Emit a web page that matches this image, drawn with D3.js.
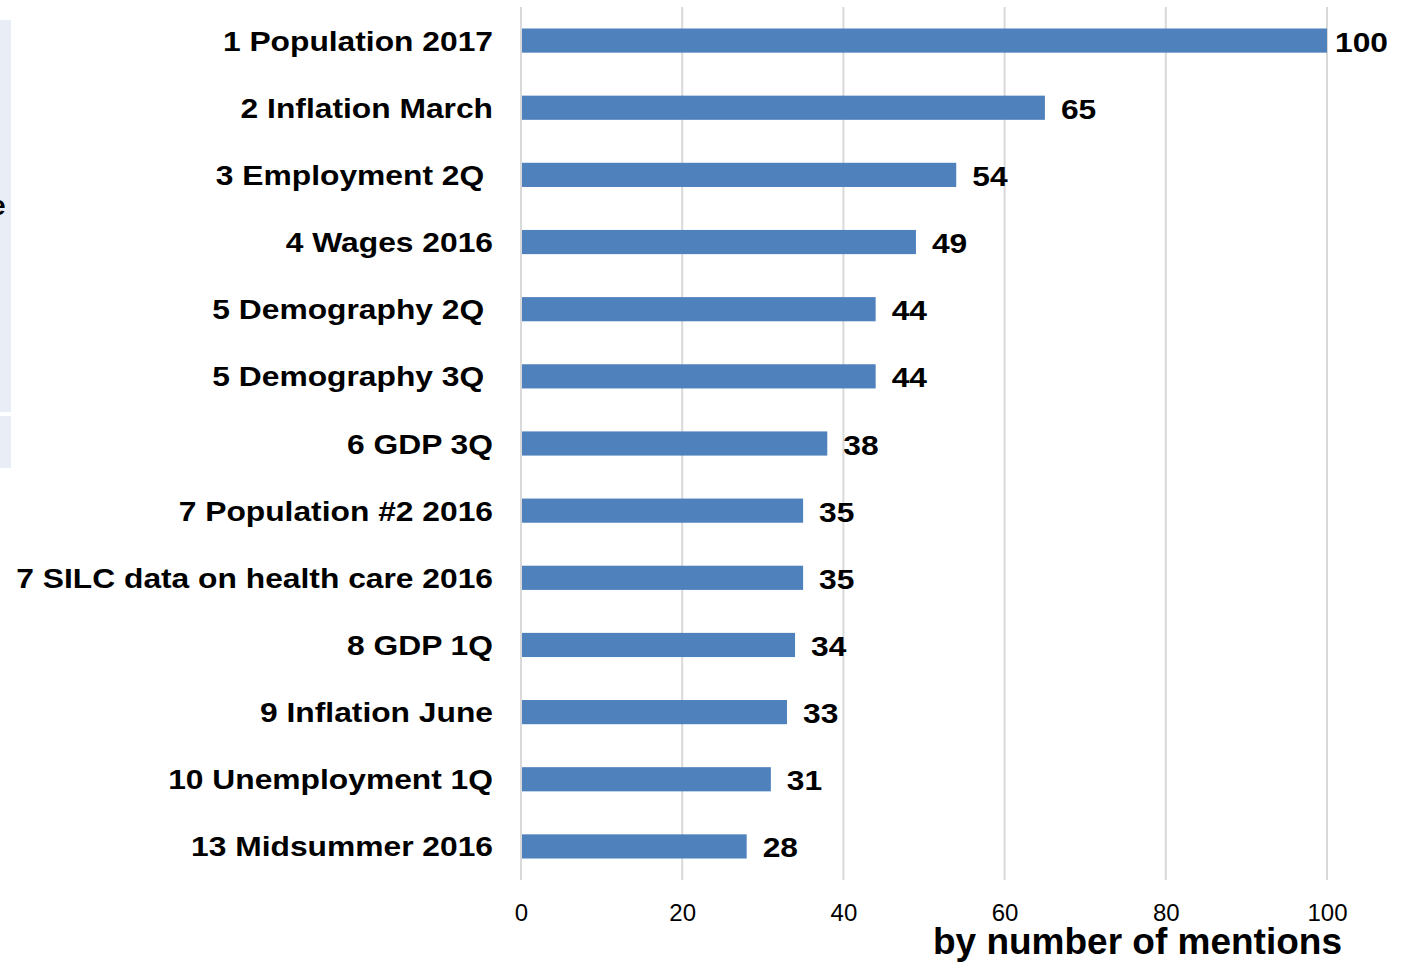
<!DOCTYPE html>
<html>
<head>
<meta charset="utf-8">
<script src="https://cdn.jsdelivr.net/npm/d3@7"></script>
<style>
  body { margin: 0; background: #fff; }
  svg text { font-family: Arial, "Liberation Sans", sans-serif; }
</style>
</head>
<body>
<div id="chart"></div>
<script>
const categories = [
  "1 Population 2017", "2 Inflation March", "3 Employment 2Q ", "4 Wages 2016",
  "5 Demography 2Q ", "5 Demography 3Q ", "6 GDP 3Q", "7 Population #2 2016",
  "7 SILC data on health care 2016", "8 GDP 1Q", "9 Inflation June",
  "10 Unemployment 1Q", "13 Midsummer 2016"
]
const mentions = [100, 65, 54, 49, 44, 44, 38, 35, 35, 34, 33, 31, 28]
const xTicks = [0, 20, 40, 60, 80, 100]
const axisTitle = "by number of mentions"

const WIDTH = 1406, HEIGHT = 962
const MARGIN = { TOP: 7, LEFT: 521, RIGHT: 79, BOTTOM: 82 }
const STRETCH = 1.135  // the slide text is a bit wider than plain Arial

const svg = d3.select("#chart").append("svg")
  .attr("width", WIDTH)
  .attr("height", HEIGHT)

// leftover panel on the left edge of the slide
svg.append("rect").attr("x", 0).attr("y", 20).attr("width", 11).attr("height", 392).attr("fill", "#e9edf5")
svg.append("rect").attr("x", 0).attr("y", 416).attr("width", 11).attr("height", 52).attr("fill", "#e9edf5")
svg.append("text").attr("x", -10).attr("y", 215).attr("font-size", 28).attr("font-weight", "bold").text("e")

const x = d3.scaleLinear().domain([0, 100]).range([MARGIN.LEFT, WIDTH - MARGIN.RIGHT])
const y = d3.scaleBand().domain(categories)
  .range([MARGIN.TOP, HEIGHT - MARGIN.BOTTOM])
  .paddingInner(0.64).paddingOuter(0.32)

// gridlines
svg.append("g").selectAll("line")
  .data(xTicks)
  .join("line")
    .attr("x1", d => x(d)).attr("x2", d => x(d))
    .attr("y1", MARGIN.TOP).attr("y2", HEIGHT - MARGIN.BOTTOM)
    .attr("stroke", "#d9d9d9")
    .attr("stroke-width", 2)

// bars
svg.append("g").selectAll("rect")
  .data(categories)
  .join("rect")
    .attr("x", x(0) + 1)
    .attr("y", d => y(d))
    .attr("width", (d, i) => x(mentions[i]) - x(0) - 1)
    .attr("height", y.bandwidth())
    .attr("fill", "#4f81bd")

// value labels
svg.append("g").selectAll("text")
  .data(categories)
  .join("text")
    .attr("transform", (d, i) =>
      `translate(${x(mentions[i]) + (mentions[i] === 100 ? 8 : 16)}, ${y(d) + y.bandwidth() / 2 + 11}) scale(${STRETCH}, 1)`)
    .attr("font-size", 28)
    .attr("font-weight", "bold")
    .text((d, i) => mentions[i])

// category labels
svg.append("g").selectAll("text")
  .data(categories)
  .join("text")
    .attr("transform", d => `translate(493, ${y(d) + y.bandwidth() / 2 + 10}) scale(${STRETCH}, 1)`)
    .attr("text-anchor", "end")
    .attr("font-size", 28)
    .attr("font-weight", "bold")
    .style("white-space", "pre")
    .text(d => d)

// x axis
const xAxis = d3.axisBottom(x).tickValues(xTicks).tickSize(0).tickPadding(0)
const axisG = svg.append("g")
  .attr("transform", `translate(0, ${HEIGHT - MARGIN.BOTTOM + 24})`)
  .call(xAxis)
axisG.select(".domain").remove()
axisG.selectAll("text")
  .attr("font-size", 24)
  .attr("fill", "#000")
  .attr("font-family", "Arial, 'Liberation Sans', sans-serif")

svg.append("text")
  .attr("x", 1342)
  .attr("y", 954)
  .attr("text-anchor", "end")
  .attr("font-size", 37)
  .attr("font-weight", "bold")
  .text(axisTitle)
</script>
</body>
</html>
